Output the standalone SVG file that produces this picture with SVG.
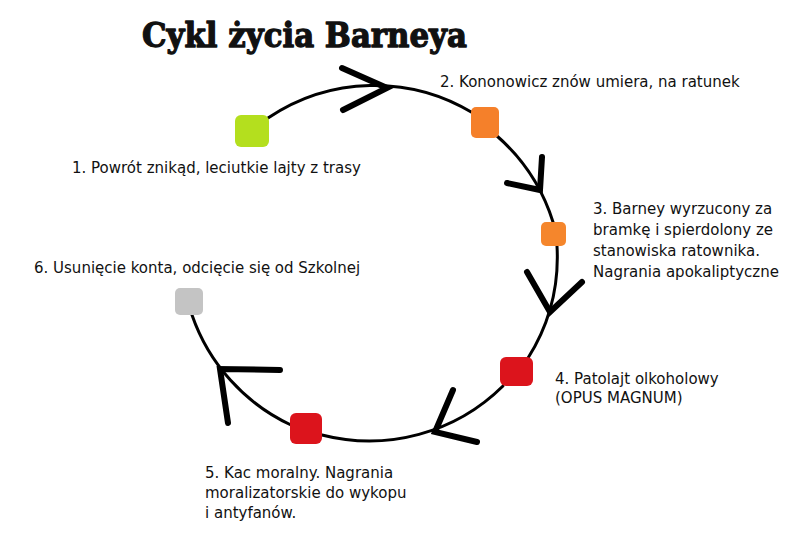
<svg xmlns="http://www.w3.org/2000/svg" width="800" height="547" viewBox="0 0 800 547">
<style>
.t{font-family:"DejaVu Sans","Liberation Sans",sans-serif;font-size:15px;fill:#111}
.title{font-family:"DejaVu Serif","Liberation Serif",serif;font-weight:bold;font-size:33px;fill:#111;stroke:#111;stroke-width:1.3;stroke-linejoin:round}
.arc{fill:none;stroke:#000;stroke-width:3;stroke-linecap:round}
.head{fill:none;stroke:#000;stroke-width:6;stroke-linecap:round;stroke-linejoin:miter}
.node{stroke:none}
</style>
<rect width="800" height="547" fill="#fff"/>
<text class="title" x="142" y="47" textLength="325" lengthAdjust="spacingAndGlyphs">Cykl życia Barneya</text>
<g id="connectors">
<path class="arc" d="M268,118 A190,190 0 0 1 473,113"/>
<polyline class="head" points="342,68 387,88 343,110"/>
<path class="arc" d="M497,136 A190,190 0 0 1 553,222"/>
<polyline class="head" points="542,157 540,190 507,183"/>
<path class="arc" d="M557,246 A190,190 0 0 1 528,358"/>
<polyline class="head" points="527,272 550,312 582,282"/>
<path class="arc" d="M503,386 A190,190 0 0 1 322,435"/>
<polyline class="head" points="453,390 435,432 477,442"/>
<path class="arc" d="M291,425 A190,190 0 0 1 192,315"/>
<polyline class="head" points="280,370 220,369 228,423"/>
</g>
<g id="node1">
<rect class="node" x="235" y="115" width="34" height="32" rx="6" fill="#b4df1e"/>
<text class="t" x="72" y="173">1. Powrót znikąd, leciutkie lajty z trasy</text>
</g>
<g id="node2">
<rect class="node" x="471" y="107" width="28" height="31" rx="5" fill="#f5802a"/>
<text class="t" x="440" y="87">2. Kononowicz znów umiera, na ratunek</text>
</g>
<g id="node3">
<rect class="node" x="541" y="222" width="25" height="24" rx="5" fill="#f5862c"/>
<text class="t" x="593" y="214">3. Barney wyrzucony za</text>
<text class="t" x="593" y="235">bramkę i spierdolony ze</text>
<text class="t" x="593" y="256">stanowiska ratownika.</text>
<text class="t" x="593" y="277">Nagrania apokaliptyczne</text>
</g>
<g id="node4">
<rect class="node" x="500" y="357" width="33" height="29" rx="6" fill="#dc141c"/>
<text class="t" x="555" y="384">4. Patolajt olkoholowy</text>
<text class="t" x="555" y="403">(OPUS MAGNUM)</text>
</g>
<g id="node5">
<rect class="node" x="290" y="413" width="32" height="31" rx="6" fill="#dc141c"/>
<text class="t" x="205" y="478">5. Kac moralny. Nagrania</text>
<text class="t" x="205" y="498">moralizatorskie do wykopu</text>
<text class="t" x="205" y="518">i antyfanów.</text>
</g>
<g id="node6">
<rect class="node" x="175" y="288" width="28" height="27" rx="5" fill="#c4c4c4"/>
<text class="t" x="34" y="273">6. Usunięcie konta, odcięcie się od Szkolnej</text>
</g>
</svg>
